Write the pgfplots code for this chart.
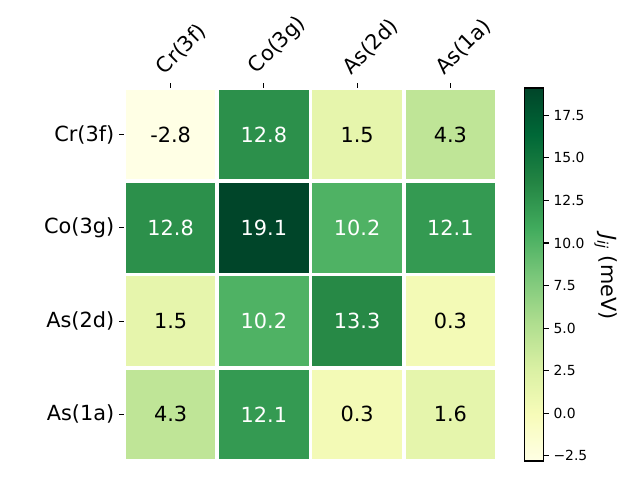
\documentclass[border=0pt]{standalone}
\usepackage{pgfplots}
\pgfplotsset{compat=1.18}
\usepackage{fontspec}
\setmainfont{DejaVu Sans}
\begin{document}
\begin{tikzpicture}
\path[use as bounding box] (0,0) rectangle (460.8pt,345.6pt);
\begin{axis}[
  at={(89.28pt,13.68pt)}, anchor=south west,
  scale only axis, width=268.56pt, height=268.56pt,
  xmin=-0.5, xmax=3.5, ymin=-0.5, ymax=3.5,
  y dir=reverse,
  axis line style={draw=none},
  xtick={0,1,2,3}, ytick={0,1,2,3},
  xticklabels={Cr(3f),Co(3g),As(2d),As(1a)},
  yticklabels={Cr(3f),Co(3g),As(2d),As(1a)},
  xtick pos=right, xticklabel pos=right,
  ytick pos=left,
  tick align=outside, major tick length=3.5pt,
  tick style={black, line width=0.8pt},
  xticklabel style={font=\fontsize{15}{18}\selectfont, rotate=45, anchor=south west, xshift=-2.5pt, yshift=1.5pt},
  yticklabel style={font=\fontsize{15}{18}\selectfont},
  colormap={YlGn}{rgb255=(255,255,229) rgb255=(247,252,185) rgb255=(217,240,163) rgb255=(173,221,142) rgb255=(120,198,121) rgb255=(65,171,93) rgb255=(35,132,67) rgb255=(0,104,55) rgb255=(0,69,41)},
  point meta min=-2.8, point meta max=19.1,
  colorbar,
  colorbar style={
    at={(parent axis.north east)}, anchor=north west, xshift=11.5pt,
    scale only axis, width=13.68pt, height=268.56pt,
    ytick={-2.5,0,2.5,5,7.5,10,12.5,15,17.5},
    yticklabels={−2.5,0.0,2.5,5.0,7.5,10.0,12.5,15.0,17.5},
    yticklabel style={font=\fontsize{10}{12}\selectfont},
    ytick pos=right, yticklabel pos=right,
    tick align=outside, major tick length=3.5pt,
    tick style={black, line width=0.8pt},
    axis line style={black, line width=0.8pt},
  },
]
\addplot[matrix plot*, mesh/cols=4, point meta=explicit, draw=white, line width=2.6pt] table[meta=z] {
x y z
0 0 -2.8
1 0 12.8
2 0 1.5
3 0 4.3
0 1 12.8
1 1 19.1
2 1 10.2
3 1 12.1
0 2 1.5
1 2 10.2
2 2 13.3
3 2 0.3
0 3 4.3
1 3 12.1
2 3 0.3
3 3 1.6
};
\addplot[only marks, mark=none, point meta=explicit symbolic,
  nodes near coords={\pgfplotspointmeta}, nodes near coords align=center,
  every node near coord/.style={font=\fontsize{15}{18}\selectfont, text=black, anchor=center}] table[meta=l] {
x y l
0 0 -2.8
2 0 1.5
3 0 4.3
0 2 1.5
3 2 0.3
0 3 4.3
2 3 0.3
3 3 1.6
};
\addplot[only marks, mark=none, point meta=explicit symbolic,
  nodes near coords={\pgfplotspointmeta}, nodes near coords align=center,
  every node near coord/.style={font=\fontsize{15}{18}\selectfont, text=white, anchor=center}] table[meta=l] {
x y l
1 0 12.8
0 1 12.8
1 1 19.1
2 1 10.2
3 1 12.1
1 2 10.2
2 2 13.3
1 3 12.1
};
\end{axis}
\node[rotate=-90, font=\fontsize{15}{18}\selectfont] at (436.3pt,146.2pt) {\textit{J}\textsubscript{\textit{ij}} (meV)};
\end{tikzpicture}
\end{document}
